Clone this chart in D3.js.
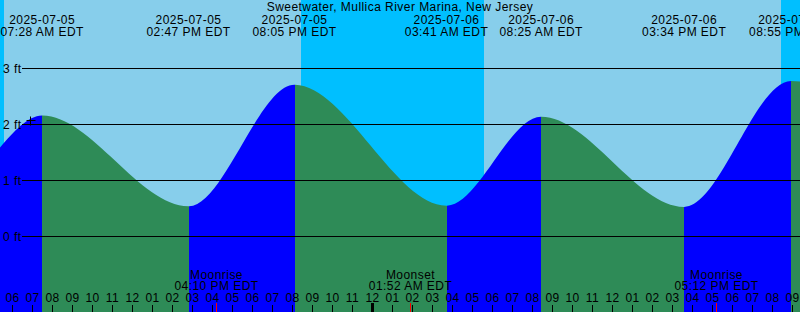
<!DOCTYPE html>
<html><head><meta charset="utf-8">
<script src="https://cdn.jsdelivr.net/npm/d3@7"></script>
<style>
html,body{margin:0;padding:0;background:#87CEEB;overflow:hidden;}
svg{display:block;}
text{font-family:"Liberation Sans",Arial,sans-serif;font-size:12px;fill:#000;letter-spacing:0.45px;}
</style>
</head><body><svg id="chart" width="800" height="312"></svg>
<script>
const title = "Sweetwater, Mullica River Marina, New Jersey";
const viewStart = "2025-07-05T05:21:30";
const viewEnd = "2025-07-06T21:21:30";
const tideTimes = ["2025-07-05T07:28:00","2025-07-05T14:47:00","2025-07-05T20:05:00","2025-07-06T03:41:00","2025-07-06T08:25:00","2025-07-06T15:34:00","2025-07-06T20:55:00"];
const tideDates = ["2025-07-05","2025-07-05","2025-07-05","2025-07-06","2025-07-06","2025-07-06","2025-07-06"];
const tideLabels = ["07:28 AM EDT","02:47 PM EDT","08:05 PM EDT","03:41 AM EDT","08:25 AM EDT","03:34 PM EDT","08:55 PM EDT"];
const tideLevels = [2.15, 0.53, 2.70, 0.54, 2.13, 0.52, 2.77];
const edgeLevels = [1.58, 2.76];
const nightStarts = ["2025-07-05T05:21:30","2025-07-05T20:25:00","2025-07-06T20:25:00"];
const nightEnds = ["2025-07-05T05:32:00","2025-07-06T05:32:00","2025-07-06T21:21:30"];
const moonTimes = ["2025-07-05T16:10:00","2025-07-06T01:52:00","2025-07-06T17:12:00"];
const moonEvents = ["Moonrise","Moonset","Moonrise"];
const moonLabels = ["04:10 PM EDT","01:52 AM EDT","05:12 PM EDT"];
const levelTicks = [0, 1, 2, 3];
const nowTime = "2025-07-05T06:53:00";
const nowLevel = 2.07;

const W = 800, H = 312;
const parse = d3.utcParse("%Y-%m-%dT%H:%M:%S");
const x = d3.scaleUtc().domain([parse(viewStart), parse(viewEnd)]).range([0, W]);
const y = d3.scaleLinear().domain([0, 3]).range([236, 68]);
const svg = d3.select("#chart");

// day background
svg.append("rect").attr("x",0).attr("y",0).attr("width",W).attr("height",H).attr("fill","#87CEEB");
// night bands
svg.selectAll("rect.night").data(d3.range(nightStarts.length)).join("rect")
  .attr("class","night")
  .attr("x", i => Math.round(x(parse(nightStarts[i]))))
  .attr("y", 0)
  .attr("width", i => Math.round(x(parse(nightEnds[i]))) - Math.round(x(parse(nightStarts[i]))))
  .attr("height", H)
  .attr("fill", "#00BFFF");

// tide curve
const pts = [{t: parse(viewStart), v: edgeLevels[0]}]
  .concat(tideTimes.map((t,i) => ({t: parse(t), v: tideLevels[i]})))
  .concat([{t: parse(viewEnd), v: edgeLevels[1]}]);
const area = d3.area().x(d => x(d.t)).y0(H).y1(d => y(d.v)).curve(d3.curveMonotoneX);
const defs = svg.append("defs");
for (let i = 0; i < pts.length - 1; i++) {
  const x0 = Math.round(x(pts[i].t)), x1 = Math.round(x(pts[i+1].t));
  defs.append("clipPath").attr("id","seg"+i).append("rect")
    .attr("x", x0).attr("y", 0).attr("width", x1 - x0).attr("height", H);
  svg.append("path").datum(pts).attr("d", area)
    .attr("clip-path", "url(#seg"+i+")")
    .attr("fill", pts[i+1].v > pts[i].v ? "#0000FF" : "#2E8B57");
}

// level grid lines and labels
svg.selectAll("line.grid").data(levelTicks).join("line")
  .attr("x1", 22).attr("x2", W)
  .attr("y1", d => Math.round(y(d)) + 0.5).attr("y2", d => Math.round(y(d)) + 0.5)
  .attr("stroke", "#000").attr("stroke-width", 1);
svg.selectAll("text.lvl").data(levelTicks).join("text")
  .attr("x", 3).attr("y", d => Math.round(y(d)) + 5)
  .text(d => d + " ft");

// now marker
const nx = Math.floor(x(parse(nowTime))) + 0.5, ny = Math.floor(y(nowLevel)) + 0.5;
svg.append("line").attr("x1", nx - 4).attr("x2", nx + 5).attr("y1", ny).attr("y2", ny).attr("stroke","#000");
svg.append("line").attr("x1", nx).attr("x2", nx).attr("y1", ny - 4).attr("y2", ny + 5).attr("stroke","#000");

// title & tide labels
svg.append("text").attr("x", W/2).attr("y", 11).attr("text-anchor","middle").text(title);
tideTimes.forEach((t,i) => {
  const cx = x(parse(t));
  svg.append("text").attr("x", cx).attr("y", 24).attr("text-anchor","middle").text(tideDates[i]);
  svg.append("text").attr("x", cx).attr("y", 36).attr("text-anchor","middle").text(tideLabels[i]);
});

// hour ticks
const hours = x.ticks(d3.utcHour.every(1));
const fmt = d3.utcFormat("%I");
hours.forEach(h => {
  const px = Math.floor(x(h));
  const midnight = h.getUTCHours() === 0;
  if (midnight) {
    svg.append("rect").attr("x", px - 1).attr("y", 303).attr("width", 3).attr("height", 9).attr("fill","#000");
  } else {
    svg.append("line").attr("x1", px + 0.5).attr("x2", px + 0.5).attr("y1", 305).attr("y2", H).attr("stroke","#000");
  }
  svg.append("text").attr("x", px + 0.5).attr("y", 302).attr("text-anchor","middle").text(fmt(h));
});

// moon events
moonTimes.forEach((t,i) => {
  const px = Math.floor(x(parse(t)));
  svg.append("line").attr("x1", px + 0.5).attr("x2", px + 0.5).attr("y1", 303).attr("y2", H).attr("stroke","#FF0000");
  svg.append("text").attr("x", px + 0.5).attr("y", 279).attr("text-anchor","middle").text(moonEvents[i]);
  svg.append("text").attr("x", px + 0.5).attr("y", 290).attr("text-anchor","middle").text(moonLabels[i]);
});
</script>
</body></html>
